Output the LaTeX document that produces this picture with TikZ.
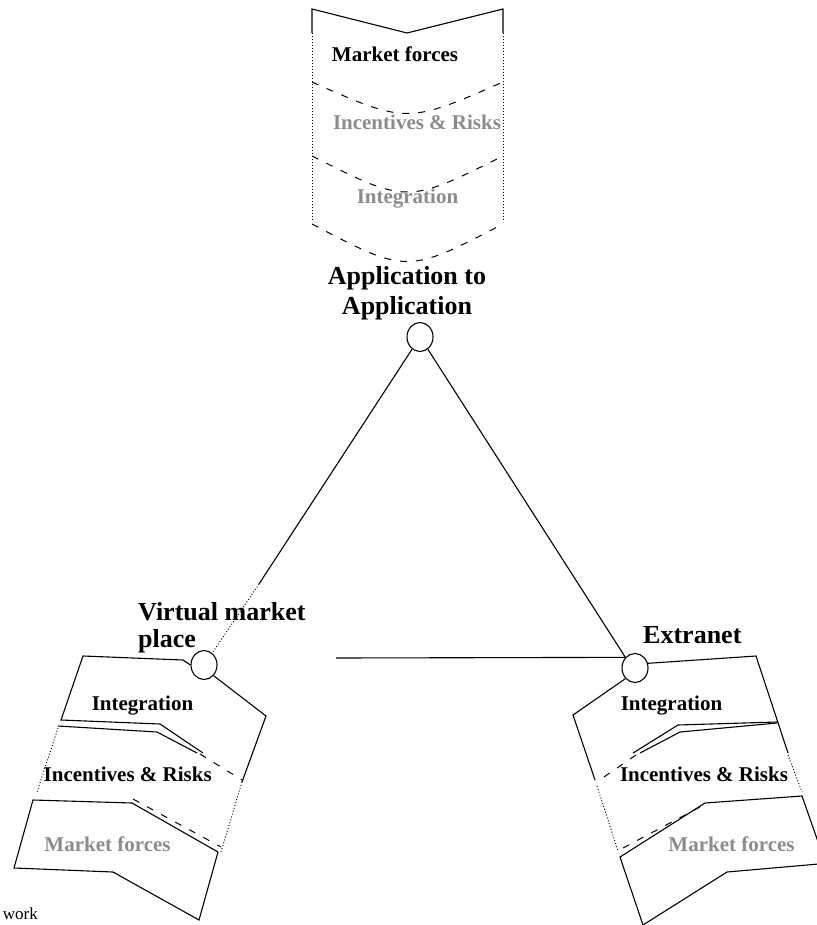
\documentclass[tikz,border=0pt]{standalone}
\usepackage{fontspec}
\setmainfont{Liberation Serif}
\usetikzlibrary{shapes.geometric}
\tikzset{
  lbl/.style={font=\bfseries\fontsize{26}{30}\selectfont, inner sep=0pt},
  layer/.style={font=\bfseries\fontsize{21}{24}\selectfont, inner sep=0pt},
  ghost/.style={layer, text=black!45},
  edge/.style={line width=1.1pt, line join=miter},
  hidden/.style={line width=0.9pt, dash pattern=on 1pt off 2pt},
  fold/.style={line width=1pt, dash pattern=on 7pt off 9pt},
  port/.style={draw, ellipse, line width=1.1pt, minimum width=26pt, minimum height=29pt, inner sep=0pt},
}
\begin{document}
\begin{tikzpicture}[x=1pt, y=-1pt]
\useasboundingbox (0,0) rectangle (816,925);

% ---------- top stack ----------
\draw[edge] (312,33) -- (312,9) -- (407,33) -- (503,9) -- (503,33);
\draw[hidden] (312,33) -- (312,222);
\draw[hidden] (503,33) -- (503,222);
\draw[fold] (312,82) .. controls (407,124) .. (503,82);
\draw[fold] (312,156) .. controls (407,204) .. (503,156);
\draw[fold] (312,224) .. controls (407,274) .. (503,224);
\node[layer, anchor=base] (tmf) at (395,61.5) {Market forces};
\node[ghost, anchor=base] (tir) at (417,130) {Incentives \& Risks};
\node[ghost, anchor=base] (tin) at (407.5,204) {Integration};

% ---------- ports ----------
\node[port] (app) at (420,337) {};
\node[port] (vmp) at (204,665) {};
\node[port] (ext) at (635,668) {};

\node[lbl, anchor=base] (applbl1) at (407,284) {Application to};
\node[lbl, anchor=base] (applbl2) at (407,314) {Application};
\node[lbl, anchor=base west] (vmlbl1) at (138,620) {Virtual market};
\node[lbl, anchor=base west] (vmlbl2) at (138,647) {place};
\node[lbl, anchor=base west] (extlbl) at (643,643) {Extranet};

% ---------- connectors ----------
\coordinate (bk) at (259,584);
\coordinate (hl) at (336,658);
\draw[edge] (app) -- (bk);
\draw[hidden] (bk) -- (vmp);
\draw[edge] (app) -- (ext.north west);
\draw[edge] (hl) -- (ext.north west);

% ---------- left stack ----------
\draw[edge] (vmp.west) -- (183,660) -- (83,656) -- (61,720) -- (160,724) -- (203,753);
\draw[edge] (vmp.south east) -- (266,716) -- (242,782);
\draw[edge] (58,726) -- (157,732) -- (197,753);
\draw[edge] (33,800) -- (132,803) -- (218,852) -- (199,920) -- (113,872) -- (14,868) -- cycle;
\draw[fold] (200,754) -- (242,780);
\draw[fold] (133,799) -- (221,847);
\draw[hidden] (58,728) -- (37,792);
\draw[hidden] (242,782) -- (221,852);
\node[layer, anchor=base] (lin) at (142.5,710) {Integration};
\node[layer, anchor=base] (lir) at (127.7,781.5) {Incentives \& Risks};
\node[ghost, anchor=base] (lmf) at (107.5,851.5) {Market forces};

% ---------- right stack ----------
\draw[edge] (ext.20) -- (756,656) -- (788,753);
\draw[edge] (ext.south west) -- (573,715) -- (595,780);
\draw[edge] (777,722) -- (678,725) -- (633,753);
\draw[edge] (777,723) -- (680,732) -- (640,753);
\draw[edge] (830,876) -- (802,796) -- (705,803) -- (620,857) -- (643,925) -- (727,872) -- (830,863);
\draw[fold] (636,755) -- (601,779);
\draw[fold] (623,848) -- (700,807);
\draw[hidden] (788,755) -- (802,792);
\draw[hidden] (597,786) -- (618,851);
\node[layer, anchor=base] (rin) at (671.5,710) {Integration};
\node[layer, anchor=base] (rir) at (704,781.5) {Incentives \& Risks};
\node[ghost, anchor=base] (rmf) at (731.5,851.5) {Market forces};

% ---------- caption fragment ----------
\node[font=\fontsize{17}{20}\selectfont, inner sep=0pt, anchor=base east] (cap) at (38,919) {work};
\end{tikzpicture}
\end{document}
